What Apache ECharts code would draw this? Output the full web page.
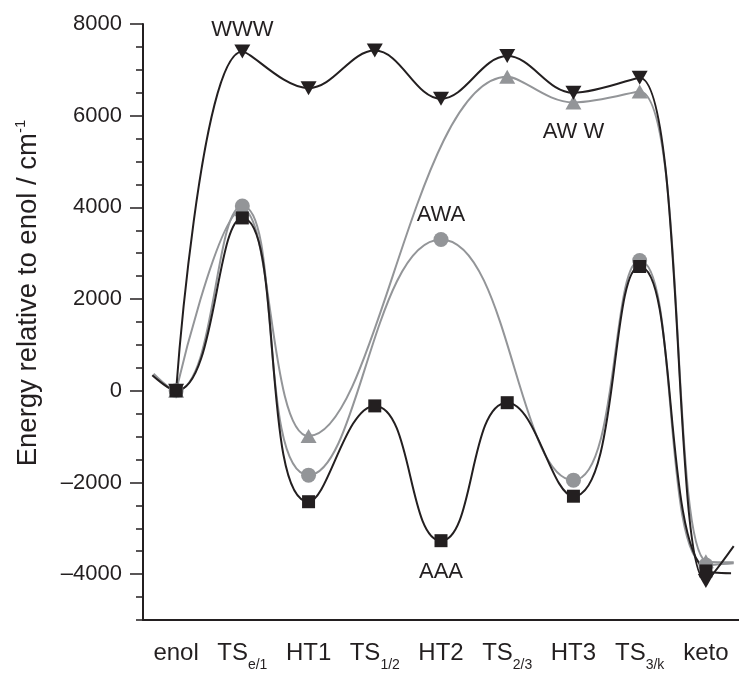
<!DOCTYPE html>
<html><head><meta charset="utf-8">
<script src="https://cdn.jsdelivr.net/npm/echarts@6/dist/echarts.min.js"></script>
<style>html,body{margin:0;padding:0;background:#fff}#c{width:739px;height:673px}</style>
</head><body><div id="c"></div>
<script>
// category names (main part + subscript part)
const catMain = ['enol', 'TS', 'HT1', 'TS', 'HT2', 'TS', 'HT3', 'TS', 'keto'];
const catSub  = ['', 'e/1', '', '1/2', '', '2/3', '', '3/k', ''];
const yTickLabels = [-4000, -2000, 0, 2000, 4000, 6000, 8000];
// energies per category (null = no stationary point on that path)
const www = [0, 7400, 6600, 7420, 6370, 7300, 6500, 6830, -4150];
const aww = [0, 3960, -985, null, null, 6850, 6290, 6530, -3720];
const awa = [0, 4030, -1840, null, 3300, null, -1950, 2840, -3800];
const aaa = [0, 3770, -2420, -330, -3270, -260, -2300, 2710, -3930];
// visible curve ends beyond the first/last points: [category position, value]
const wwwTailR = [[8.42, -3390]];
const awwTailR = [[8.42, -3740]];
const awaTailL = [[-0.34, 370]];
const awaTailR = [[8.42, -3760]];
const aaaTailL = [[-0.36, 340]];
const aaaTailR = [[8.38, -3980]];
// path labels and the category they are attached to
const pathNames = ['WWW', 'AW W', 'AWA', 'AAA'];
const pathLabelAt = [1, 6, 4, 4];

const INK = '#231f20', GREY = '#939598';
const FONT = '"Liberation Sans", Arial, Helvetica, sans-serif';

function build(vals, tailL, tailR, labelIdx, labelText, labelPos, labelDist) {
  const out = [];
  (tailL || []).forEach(p => out.push({ value: p, symbol: 'none' }));
  vals.forEach((v, i) => {
    if (v === null) return;
    const item = { value: [i, v] };
    if (i === labelIdx) {
      item.label = { show: true, formatter: labelText, position: labelPos, distance: labelDist,
        fontSize: 22, fontFamily: FONT, color: INK };
    }
    out.push(item);
  });
  (tailR || []).forEach(p => out.push({ value: p, symbol: 'none' }));
  return out;
}

function lineSeries(name, data, color, symbol, size, rotate, smooth) {
  return {
    name, type: 'line', xAxisIndex: 1, yAxisIndex: 0, data,
    smooth: smooth || 0.5, symbol, symbolSize: size, symbolRotate: rotate || 0, showAllSymbol: true,
    lineStyle: { color, width: 2 }, itemStyle: { color, borderWidth: 0 },
    emphasis: { disabled: true }, animation: false
  };
}

const chart = echarts.init(document.getElementById('c'), null, { renderer: 'canvas' });
chart.setOption({
  backgroundColor: '#fff',
  animation: false,
  grid: { left: 143, right: -4.5, top: 24, bottom: 53 },
  xAxis: [{
    type: 'category', data: catMain.map((m, i) => m + catSub[i]), boundaryGap: true,
    axisLine: { onZero: false, lineStyle: { color: INK, width: 2 } },
    axisTick: { alignWithLabel: true, interval: 0, length: 13, lineStyle: { color: INK, width: 1.5 } },
    axisLabel: {
      interval: 0, margin: 14, color: INK, fontFamily: FONT,
      formatter: (v, i) => catSub[i] ? '{m|' + catMain[i] + '}{s|' + catSub[i] + '}' : '{m|' + catMain[i] + '}',
      rich: {
        m: { fontSize: 24, lineHeight: 38, fontFamily: FONT, color: INK },
        s: { fontSize: 14, lineHeight: 14, verticalAlign: 'bottom', fontFamily: FONT, color: INK }
      }
    },
    splitLine: { show: false }
  }, {
    type: 'value', min: -0.5, max: 8.5, show: false,
    axisLine: { onZero: false }
  }],
  yAxis: [{
    type: 'value', min: -5000, max: 8000,
    axisLine: { show: true, onZero: false, lineStyle: { color: INK, width: 2 } },
    axisTick: { show: true, length: 13, customValues: yTickLabels, lineStyle: { color: INK, width: 1.5 } },
    axisLabel: {
      customValues: yTickLabels, margin: 21, fontSize: 22, fontFamily: FONT, color: INK,
      formatter: v => (v < 0 ? '\u2013' + Math.abs(v) : String(v))
    },
    splitLine: { show: false },
    name: '{a|Energy relative to enol / cm}{sup|-1}',
    nameLocation: 'middle', nameRotate: 90, nameGap: 100,
    nameTextStyle: {
      padding: [0, 0, 0, 58],
      rich: {
        a: { fontSize: 27.5, lineHeight: 30, fontFamily: FONT, color: INK },
        sup: { fontSize: 15, lineHeight: 15, verticalAlign: 'top', fontFamily: FONT, color: INK }
      }
    }
  }, {
    type: 'value', min: -5000, max: 8000, interval: 500, position: 'left',
    axisLine: { show: false, onZero: false },
    axisTick: { show: true, length: 7, lineStyle: { color: INK, width: 1.5 } },
    axisLabel: { show: false }, splitLine: { show: false }
  }],
  series: [
    lineSeries('AWW', build(aww, null, awwTailR, pathLabelAt[1], pathNames[1], 'bottom', 12), GREY, 'triangle', [16, 14], 0, 0.4),
    lineSeries('AWA', build(awa, awaTailL, awaTailR, pathLabelAt[2], pathNames[2], 'top', 6), GREY, 'circle', 15),
    lineSeries('AAA', build(aaa, aaaTailL, aaaTailR, pathLabelAt[3], pathNames[3], 'bottom', 14), INK, 'rect', 13),
    lineSeries('WWW', build(www, null, wwwTailR, pathLabelAt[0], pathNames[0], 'top', 4), INK, 'triangle', [16, 14], 180, 0.38)
  ]
});
</script></body></html>
